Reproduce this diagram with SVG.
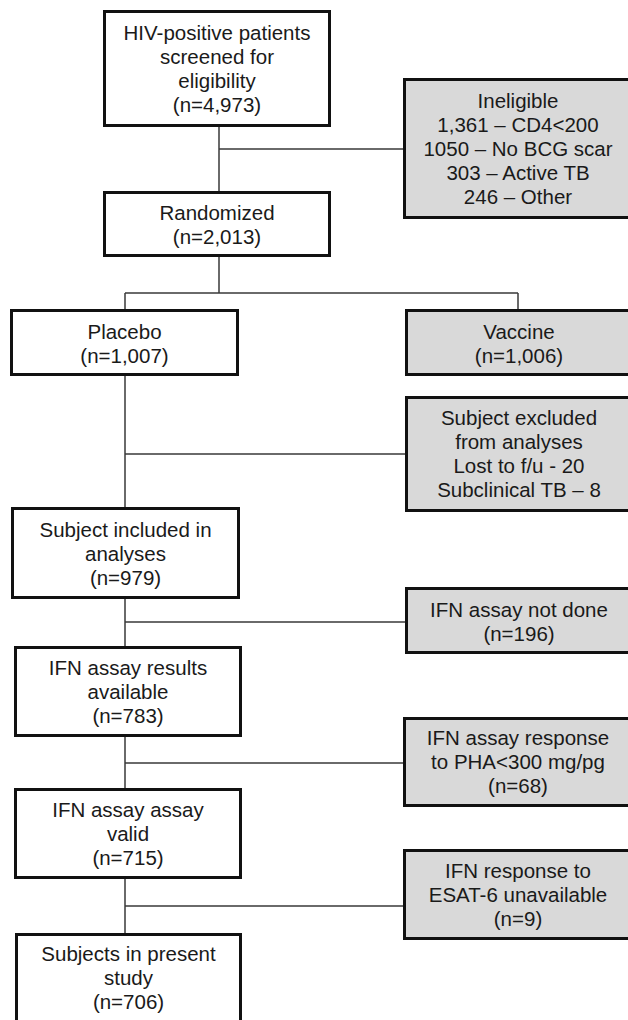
<svg xmlns="http://www.w3.org/2000/svg" width="628" height="1020" viewBox="0 0 628 1020">
<style>
.box{fill:#ffffff;stroke:#111111;stroke-width:3}
.gray{fill:#d9d9d9;stroke:#111111;stroke-width:3}
.t{font-family:"Liberation Sans",Arial,sans-serif;font-size:20.5px;fill:#1a1a1a;text-anchor:middle}
.c{fill:none;stroke:#3a3a3a;stroke-width:1.5}
</style>
<rect width="628" height="1020" fill="#ffffff"/>
<g id="connectors">
<path class="c" d="M219 127V191M219 149H403"/>
<path class="c" d="M219 257V293M125 293H518M125 293V309M518 293V309"/>
<path class="c" d="M125 376V507M125 454H405"/>
<path class="c" d="M125 599V646M125 622H405"/>
<path class="c" d="M125 737V788M125 763H403"/>
<path class="c" d="M125 879V933M125 906H403"/>
</g>
<g id="screened">
<rect class="box" x="104.5" y="11.5" width="225" height="114"/>
<text class="t" x="217" y="40">HIV-positive patients</text>
<text class="t" x="217" y="64">screened for</text>
<text class="t" x="217" y="88">eligibility</text>
<text class="t" x="217" y="112">(n=4,973)</text>
</g>
<g id="ineligible">
<rect class="gray" x="404.5" y="79.5" width="230" height="138"/>
<text class="t" x="518" y="107.5">Ineligible</text>
<text class="t" x="518" y="131.5">1,361 – CD4&lt;200</text>
<text class="t" x="518" y="155.5">1050 – No BCG scar</text>
<text class="t" x="518" y="179.5">303 – Active TB</text>
<text class="t" x="518" y="203.5">246 – Other</text>
</g>
<g id="randomized">
<rect class="box" x="104.5" y="192.5" width="225" height="63"/>
<text class="t" x="217" y="219.5">Randomized</text>
<text class="t" x="217" y="243.5">(n=2,013)</text>
</g>
<g id="placebo">
<rect class="box" x="11.5" y="310.5" width="226" height="64"/>
<text class="t" x="124.5" y="338.5">Placebo</text>
<text class="t" x="124.5" y="362.5">(n=1,007)</text>
</g>
<g id="vaccine">
<rect class="gray" x="406.5" y="310.5" width="230" height="64"/>
<text class="t" x="519" y="338.5">Vaccine</text>
<text class="t" x="519" y="362.5">(n=1,006)</text>
</g>
<g id="excluded">
<rect class="gray" x="406.5" y="397.5" width="230" height="113"/>
<text class="t" x="519" y="425">Subject excluded</text>
<text class="t" x="519" y="449">from analyses</text>
<text class="t" x="519" y="473">Lost to f/u - 20</text>
<text class="t" x="519" y="497">Subclinical TB – 8</text>
</g>
<g id="included">
<rect class="box" x="12.5" y="508.5" width="226" height="89"/>
<text class="t" x="125.5" y="537">Subject included in</text>
<text class="t" x="125.5" y="561">analyses</text>
<text class="t" x="125.5" y="585">(n=979)</text>
</g>
<g id="notdone">
<rect class="gray" x="406.5" y="588.5" width="230" height="64"/>
<text class="t" x="519" y="616.5">IFN assay not done</text>
<text class="t" x="519" y="640.5">(n=196)</text>
</g>
<g id="results">
<rect class="box" x="15.5" y="647.5" width="225" height="88"/>
<text class="t" x="128" y="674.5">IFN assay results</text>
<text class="t" x="128" y="698.5">available</text>
<text class="t" x="128" y="722.5">(n=783)</text>
</g>
<g id="pha">
<rect class="gray" x="404.5" y="718.5" width="230" height="87"/>
<text class="t" x="518" y="745">IFN assay response</text>
<text class="t" x="518" y="769">to PHA&lt;300 mg/pg</text>
<text class="t" x="518" y="793">(n=68)</text>
</g>
<g id="valid">
<rect class="box" x="15.5" y="789.5" width="225" height="88"/>
<text class="t" x="128" y="816.5">IFN assay assay</text>
<text class="t" x="128" y="840.5">valid</text>
<text class="t" x="128" y="864.5">(n=715)</text>
</g>
<g id="esat">
<rect class="gray" x="404.5" y="850.5" width="230" height="88"/>
<text class="t" x="518" y="877.5">IFN response to</text>
<text class="t" x="518" y="901.5">ESAT-6 unavailable</text>
<text class="t" x="518" y="925.5">(n=9)</text>
</g>
<g id="present">
<rect class="box" x="16.5" y="934.5" width="224" height="90"/>
<text class="t" x="128.5" y="961">Subjects in present</text>
<text class="t" x="128.5" y="985">study</text>
<text class="t" x="128.5" y="1009">(n=706)</text>
</g>
</svg>
